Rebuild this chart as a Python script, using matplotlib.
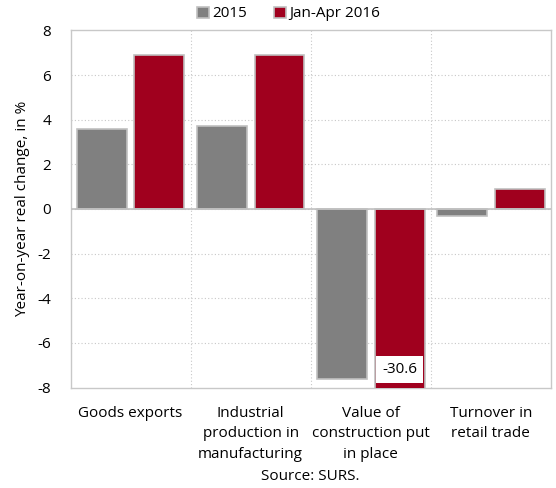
import matplotlib
matplotlib.use("Agg")
import matplotlib.pyplot as plt
import numpy as np

# data
categories = ["Goods exports", "Industrial\nproduction in\nmanufacturing",
              "Value of\nconstruction put\nin place", "Turnover in\nretail trade"]
vals_2015 = [3.6, 3.7, -7.6, -0.3]
vals_2016 = [6.9, 6.9, -30.6, 0.9]
series_names = ["2015", "Jan-Apr 2016"]

plt.rcParams['font.family'] = ['Open Sans', 'DejaVu Sans']
fs = 11

fig = plt.figure(figsize=(5.56, 4.88), dpi=100)
ax = fig.add_axes([0.1268, 0.2059, 0.8642, 0.7318])

x = np.arange(len(categories))
w = 0.415
off = 0.24
b1 = ax.bar(x - off, vals_2015, w, color='#808080', edgecolor='#c0c0c0', linewidth=1.2,
            label=series_names[0], zorder=3)
b2 = ax.bar(x + off, vals_2016, w, color='#a0001e', edgecolor='#c0c0c0', linewidth=1.2,
            label=series_names[1], zorder=3)

ax.set_ylim(-8, 8)
ax.set_xlim(-0.5, len(categories) - 0.5)
ax.set_yticks(np.arange(-8, 9, 2))
ax.set_yticklabels([str(v) for v in range(-8, 9, 2)], fontsize=fs)
ax.set_xticks(x)
ax.set_xticklabels(categories, fontsize=fs, linespacing=1.5)
ax.tick_params(length=0)
ax.tick_params(axis='x', pad=13)
ax.tick_params(axis='y', pad=14)

# grid: dotted horizontal at ticks, dotted vertical between categories
for yv in range(-6, 8, 2):
    ax.axhline(yv, color='#c8c8c8', lw=0.8, ls=(0, (1, 2)), zorder=1)
for xv in x[:-1] + 0.5:
    ax.axvline(xv, color='#c8c8c8', lw=0.8, ls=(0, (1, 2)), zorder=1)
ax.axhline(0, color='#c0c0c0', lw=1.2, zorder=4)

for s in ax.spines.values():
    s.set_color('#c8c8c8')
    s.set_linewidth(1.0)

# label for the clipped construction bar
ax.text(x[2] + off, -7.2, "%.1f" % vals_2016[2], ha='center', va='center', fontsize=fs,
        bbox=dict(facecolor='white', edgecolor='none', pad=4.5), zorder=5)

ax.set_ylabel("Year-on-year real change, in %", fontsize=fs, labelpad=5)

fig.legend(handles=[b1, b2], loc='upper center', bbox_to_anchor=(0.519, 1.015), ncol=2,
           frameon=False, fontsize=fs, handlelength=0.75, handleheight=0.75,
           handletextpad=0.2, columnspacing=1.8)

fig.text(0.558, 0.024, "Source: SURS.", ha='center', va='center', fontsize=fs)

fig.savefig("out.png", dpi=100)
